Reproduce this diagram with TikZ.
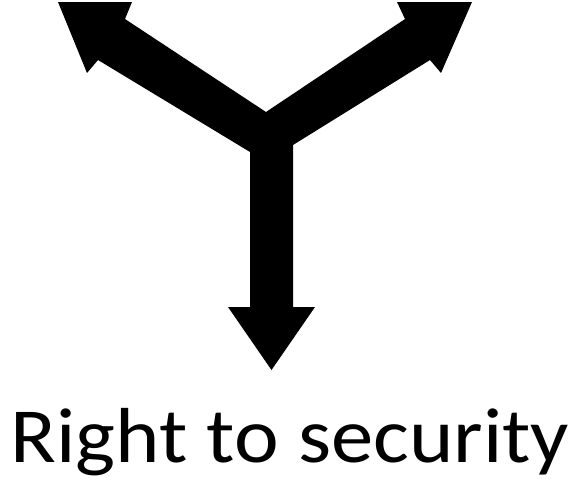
\documentclass[tikz,border=0pt]{standalone}
\usepackage{fontspec}
\setmainfont{Carlito}
\tikzset{arrowshape/.style={fill=black,draw=none},
  caption/.style={anchor=base,inner sep=0pt,font=\fontsize{78}{90}\selectfont}}
\begin{document}
\begin{tikzpicture}[x=1pt,y=-1pt]
\useasboundingbox (0,0) rectangle (571,480);
\fill[white] (0,0) rectangle (571,480);
\fill[arrowshape] (87,73) -- (98,60) -- (250,152) -- (250,307) -- (228,307)
  -- (271.5,370) -- (315,307) -- (293,307) -- (293,145) -- (430,60) -- (441,73)
  -- (472,2) -- (397,2) -- (405,19) -- (266,112) -- (125,19) -- (132,2)
  -- (58,2) -- cycle;
\node[caption] (label) at (290,462) {\scalebox{1.085}[1]{Right to security}};
\end{tikzpicture}
\end{document}
